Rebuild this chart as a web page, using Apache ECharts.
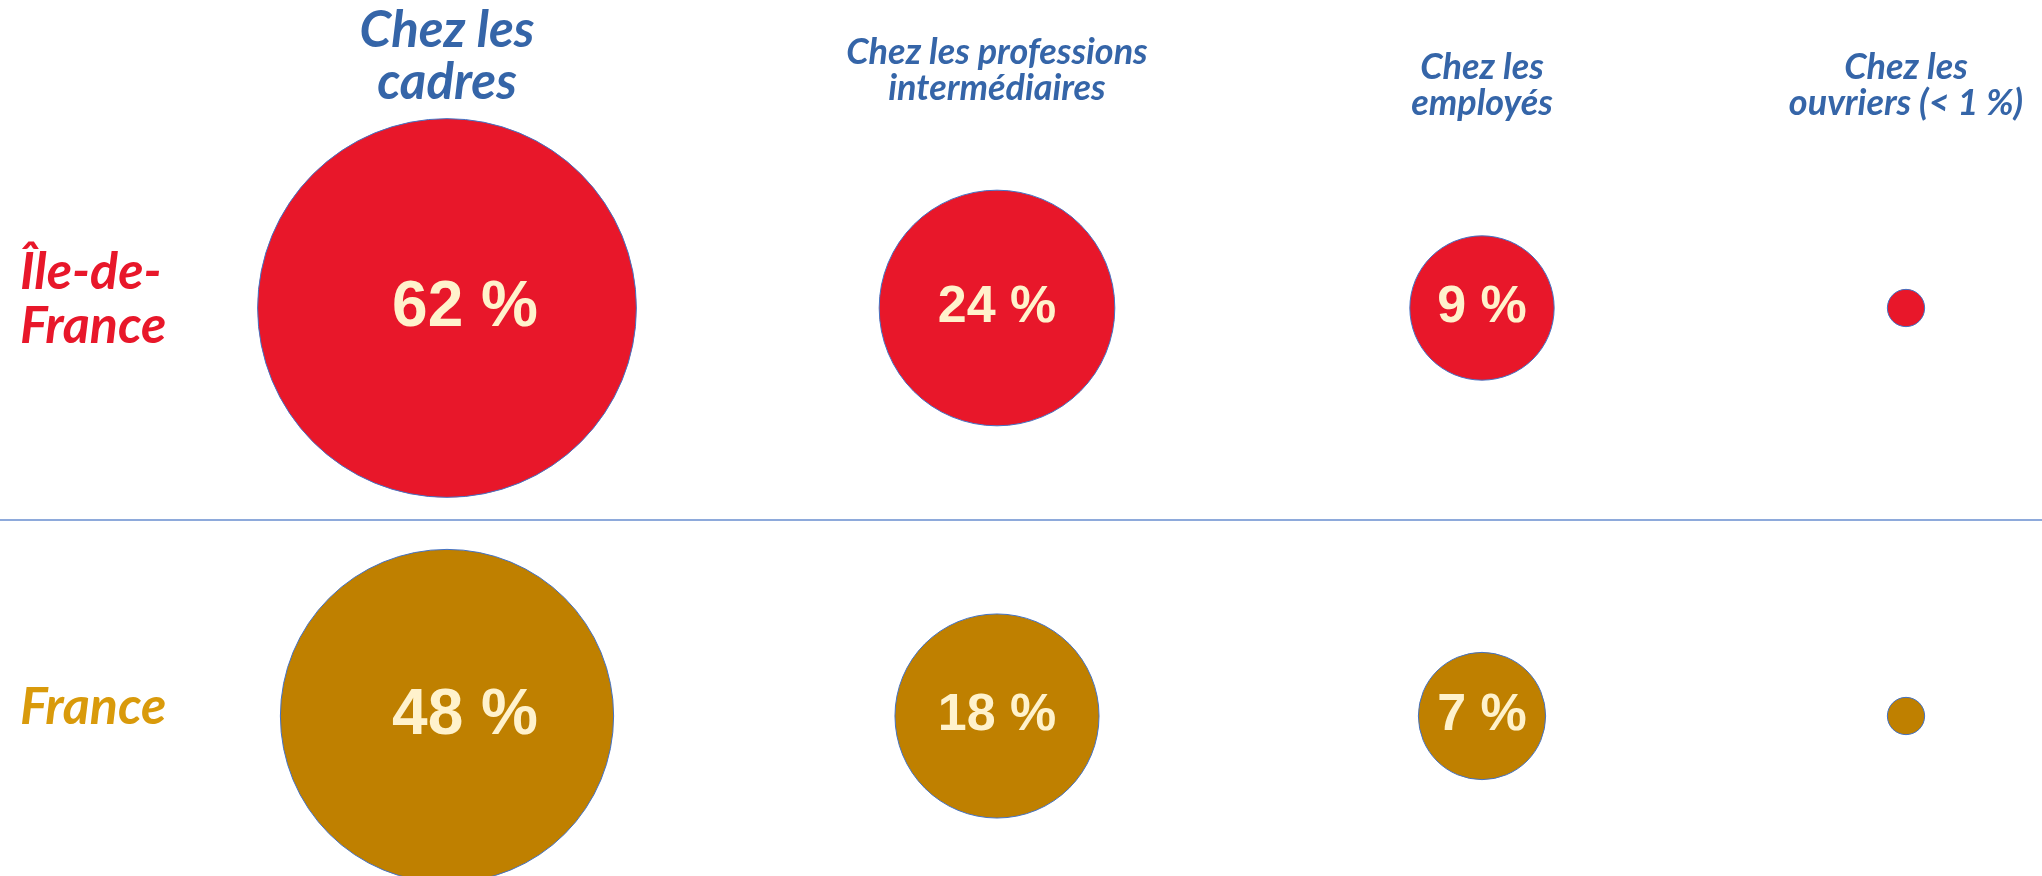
<!DOCTYPE html>
<html>
<head>
<meta charset="utf-8">
<script src="https://cdn.jsdelivr.net/npm/echarts@6/dist/echarts.min.js"></script>
<style>
  html, body { margin: 0; padding: 0; background: #fff; }
  #chart { width: 2042px; height: 876px; }
</style>
</head>
<body>
<div id="chart"></div>
<script>
// catégories socioprofessionnelles (colonnes) et territoires (lignes)
var columns = ['Chez les\ncadres', 'Chez les professions\nintermédiaires', 'Chez les\nemployés', 'Chez les\nouvriers (< 1 %)'];
var regions = ['Île-de-France', 'France'];
var idfValues = [62, 24, 9, 0.6];
var franceValues = [48, 18, 7, 0.6];

var RED = '#E8172A';
var GOLD = '#BF8000';
var BLUE = '#3565A8';
var CREAM = '#FFF2CC';

// mise en page des colonnes : centre et demi-largeur de chaque panneau
var panels = [
  { center: 447, half: 447, size: 51, lh: 52, margin: -5 },
  { center: 997, half: 200, size: 36, lh: 36, margin: -2 },
  { center: 1482, half: 200, size: 36, lh: 36, margin: -17 },
  { center: 1906, half: 130, size: 36, lh: 36, margin: -17 }
];
var TOP = 104;
// axe des lignes : index 0 et 1, une ligne = 408 px
var Y_MIN = -0.5, Y_MAX = -0.5 + (876 - TOP) / 408;

// aire du disque proportionnelle à la valeur
function bubbleSize(v) { return Math.sqrt(v) * 48.1; }

var rowLabelStyle = { fontFamily: 'Lato', fontStyle: 'italic', fontWeight: 'bold', fontSize: 52, lineHeight: 54, padding: [0, 0, 18, 0] };

var grids = [], xAxes = [], yAxes = [], series = [];

panels.forEach(function (p, i) {
  grids.push({ left: p.center - p.half, width: p.half * 2, top: TOP, bottom: 0 });
  xAxes.push({
    type: 'category', gridIndex: i, position: 'top', data: [columns[i]],
    axisLine: { show: false }, axisTick: { show: false }, splitLine: { show: false },
    axisLabel: {
      interval: 0, margin: p.margin, color: BLUE, fontFamily: 'Lato',
      fontStyle: 'italic', fontWeight: 'bold', fontSize: p.size, lineHeight: p.lh
    }
  });
  yAxes.push({
    type: 'value', gridIndex: i, min: Y_MIN, max: Y_MAX, inverse: true,
    axisLine: { show: false }, axisTick: { show: false }, splitLine: { show: false },
    axisLabel: {
      show: i === 0, inside: true, margin: 20, align: 'left',
      customValues: [0, 1],
      formatter: function (value) {
        var tag = value === 0 ? 'idf' : 'fr';
        return regions[value].replace('-de-', '-de-\n').split('\n').map(function (s) {
          return '{' + tag + '|' + s + '}';
        }).join('\n');
      },
      rich: {
        idf: Object.assign({ color: RED }, rowLabelStyle),
        fr: Object.assign({ color: '#D99A0B' }, rowLabelStyle)
      }
    }
  });
  series.push({
    type: 'scatter', xAxisIndex: i, yAxisIndex: i,
    data: [
      [columns[i], 0, idfValues[i]],
      [columns[i], 1, franceValues[i]]
    ],
    symbol: 'circle',
    symbolSize: function (d) { return bubbleSize(d[2]); },
    itemStyle: {
      color: function (params) { return params.dataIndex === 0 ? RED : GOLD; },
      borderColor: '#4472C4', borderWidth: 1, opacity: 1
    },
    label: {
      show: true, position: 'inside',
      formatter: function (params) {
        var v = params.value[2];
        if (v < 1) return '';
        return (v >= 40 ? '{big|' : '{mid|') + v + ' %}';
      },
      rich: {
        big: { color: CREAM, fontFamily: 'Liberation Sans', fontWeight: 'bold', fontSize: 64, padding: [0, 0, 0, 36] },
        mid: { color: CREAM, fontFamily: 'Liberation Sans', fontWeight: 'bold', fontSize: 52 }
      }
    },
    emphasis: { disabled: true },
    z: 2
  });
});

// panneau de fond pleine largeur pour la ligne de séparation
grids.push({ left: 0, right: 0, top: TOP, bottom: 0 });
xAxes.push({ type: 'value', gridIndex: 4, min: 0, max: 1, show: false });
yAxes.push({ type: 'value', gridIndex: 4, min: Y_MIN, max: Y_MAX, inverse: true, show: false });
series.push({
  type: 'scatter', xAxisIndex: 4, yAxisIndex: 4, data: [],
  markLine: {
    silent: true, symbol: 'none', label: { show: false },
    lineStyle: { color: '#8EAADB', width: 2, type: 'solid' },
    data: [{ yAxis: 0.515 }]
  },
  z: 1
});

var myChart = echarts.init(document.getElementById('chart'), null, { renderer: 'canvas' });
myChart.setOption({
  animation: false,
  backgroundColor: '#ffffff',
  grid: grids,
  xAxis: xAxes,
  yAxis: yAxes,
  series: series
});
</script>
</body>
</html>
